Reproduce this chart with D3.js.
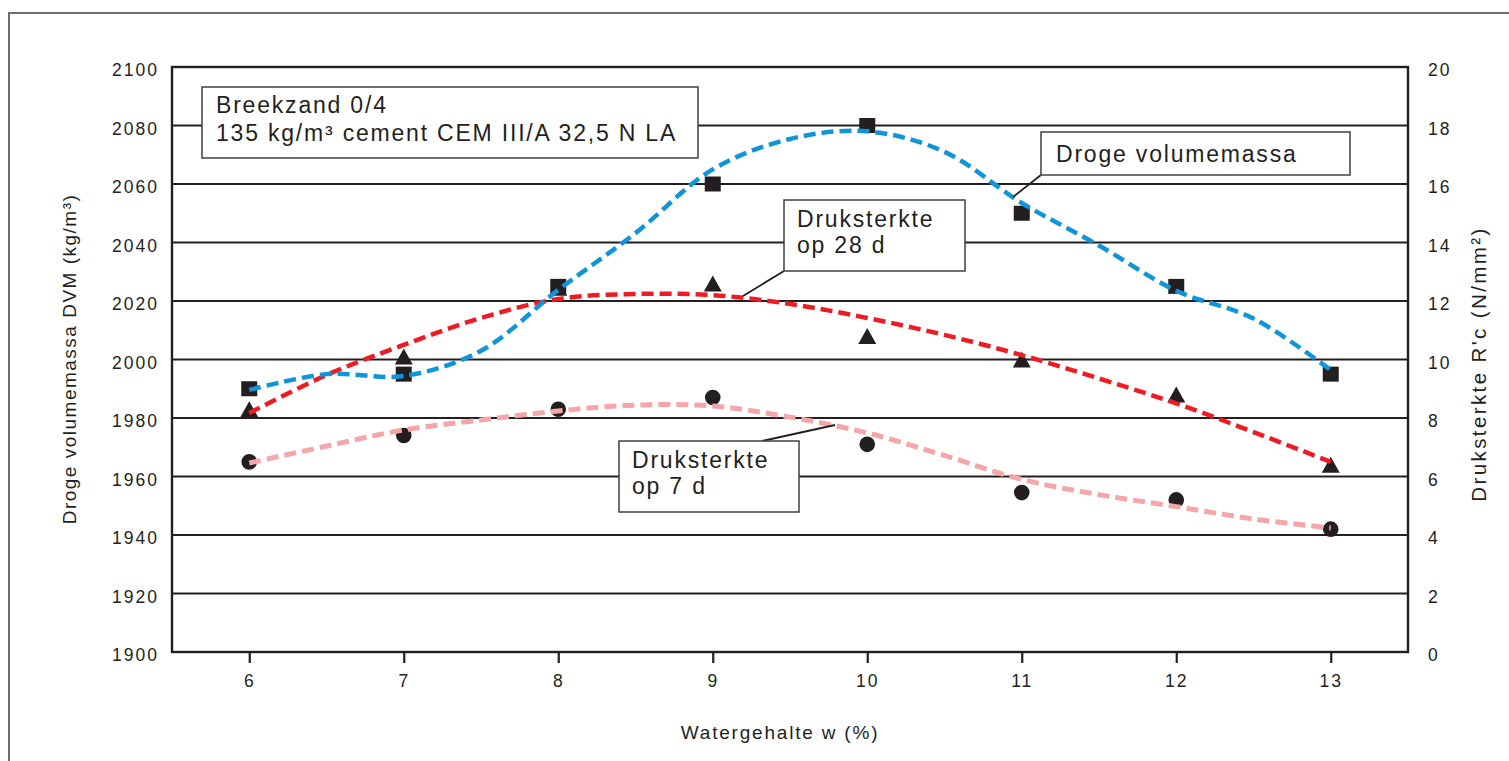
<!DOCTYPE html>
<html>
<head>
<meta charset="utf-8">
<script src="https://cdn.jsdelivr.net/npm/d3@7"></script>
<style>
  body { margin: 0; background: #fff; }
  text { font-family: "Liberation Sans", Arial, Helvetica, sans-serif; fill: #231f20; }
</style>
</head>
<body>
<div id="chart"></div>
<script>
// Measured points (x = watergehalte %)
const waterContent = [6, 7, 8, 9, 10, 11, 12, 13];
const dryDensity = [1990, 1995, 2025, 2060, 2080, 2050, 2025, 1995];   // kg/m3, left axis
const strength28d = [8.3, 10.1, 12.45, 12.6, 10.8, 10.0, 8.8, 6.4];   // N/mm2, right axis
const strength7d = [6.5, 7.4, 8.3, 8.7, 7.1, 5.45, 5.2, 4.2];          // N/mm2, right axis

// Trend lines
const fitX = [6, 6.5, 7, 7.5, 8, 8.5, 9, 9.5, 10, 10.5, 11, 11.5, 12, 12.5, 13];
const dryDensityFit = [1989.6, 1995, 1994.4, 2003, 2023.8, 2043.2, 2065, 2075.4, 2078, 2071, 2053.5, 2039, 2023.5, 2014, 1996.4];
const strength28dFit = [8.17, 9.47, 10.5, 11.42, 12.07, 12.24, 12.2, 11.9, 11.42, 10.84, 10.15, 9.35, 8.5, 7.52, 6.5];
const strength7dFit = [6.46, 7.04, 7.59, 7.93, 8.24, 8.44, 8.41, 8.03, 7.49, 6.72, 5.9, 5.38, 4.97, 4.55, 4.24];

// Tick labels
const xTicks = [6, 7, 8, 9, 10, 11, 12, 13];
const densityTicks = [1900, 1920, 1940, 1960, 1980, 2000, 2020, 2040, 2060, 2080, 2100];
const strengthTicks = [0, 2, 4, 6, 8, 10, 12, 14, 16, 18, 20];

(function () {
    const width = 1509, height = 761;
    const left = 172, right = 1408, top = 67, bottom = 652;
    const ink = "#231f20";

    const svg = d3.select("#chart")
        .append("svg")
        .attr("width", width)
        .attr("height", height);

    // outer frame (only top and left edges are in view)
    svg.append("rect")
        .attr("x", 9).attr("y", 13)
        .attr("width", width + 20).attr("height", height + 20)
        .attr("fill", "none")
        .attr("stroke", "#6d6e71")
        .attr("stroke-width", 2);

    const x = d3.scaleLinear().domain([5.5, 13.5]).range([left, right]);
    const yL = d3.scaleLinear().domain([1900, 2100]).range([bottom, top]);
    const yR = d3.scaleLinear().domain([0, 20]).range([bottom, top]);

    // gridlines
    svg.append("g")
        .selectAll("line")
        .data(densityTicks.slice(1, -1))
        .enter()
        .append("line")
        .attr("x1", left).attr("x2", right)
        .attr("y1", d => yL(d)).attr("y2", d => yL(d))
        .attr("stroke", ink)
        .attr("stroke-width", 2.2);

    // plot border
    svg.append("rect")
        .attr("x", left).attr("y", top)
        .attr("width", right - left).attr("height", bottom - top)
        .attr("fill", "none")
        .attr("stroke", ink)
        .attr("stroke-width", 2.4);

    // axes
    const xAxis = svg.append("g")
        .attr("transform", `translate(0,${bottom})`)
        .call(d3.axisBottom(x).tickValues(xTicks).tickSize(11).tickPadding(12));
    const yAxisL = svg.append("g")
        .attr("transform", `translate(${left},0)`)
        .call(d3.axisLeft(yL).tickValues(densityTicks).tickFormat(d3.format("d")).tickSize(0).tickPadding(13));
    const yAxisR = svg.append("g")
        .attr("transform", `translate(${right},0)`)
        .call(d3.axisRight(yR).tickValues(strengthTicks).tickFormat(d3.format("d")).tickSize(0).tickPadding(20));

    [xAxis, yAxisL, yAxisR].forEach(a => {
        a.select(".domain").remove();
        a.selectAll("line").attr("stroke", ink).attr("stroke-width", 2.2);
        a.selectAll("text")
            .attr("fill", ink)
            .style("font-size", "17.5px")
            .style("letter-spacing", "2px")
            .style("font-family", "'Liberation Sans', Arial, sans-serif");
    });
    yAxisL.selectAll("text").attr("dy", "0.5em");
    yAxisR.selectAll("text").attr("dy", "0.5em");

    // markers
    const squares = waterContent.map((w, i) => ({ w, v: dryDensity[i] }));
    const triangles = waterContent.map((w, i) => ({ w, v: strength28d[i] }));
    const circles = waterContent.map((w, i) => ({ w, v: strength7d[i] }));

    svg.append("g").selectAll("rect")
        .data(squares).enter().append("rect")
        .attr("x", d => x(d.w) - 8).attr("y", d => yL(d.v) - 7.5)
        .attr("width", 16).attr("height", 15)
        .attr("fill", ink);

    svg.append("g").selectAll("path")
        .data(triangles).enter().append("path")
        .attr("d", d => {
            const cx = x(d.w), cy = yR(d.v);
            return `M${cx},${cy - 8} L${cx + 9},${cy + 8} L${cx - 9},${cy + 8} Z`;
        })
        .attr("fill", ink);

    svg.append("g").selectAll("circle")
        .data(circles).enter().append("circle")
        .attr("cx", d => x(d.w)).attr("cy", d => yR(d.v))
        .attr("r", 7.8)
        .attr("fill", ink);

    // dashed trend lines
    const trend = (scale) => d3.line()
        .x(d => x(d[0]))
        .y(d => scale(d[1]))
        .curve(d3.curveCatmullRom.alpha(0.5));

    const trends = [
        { values: strength7dFit, scale: yR, color: "#f4a6a8", w: 5 },
        { values: strength28dFit, scale: yR, color: "#ed1c24", w: 4.5 },
        { values: dryDensityFit, scale: yL, color: "#0f95d8", w: 4.5 }
    ];
    trends.forEach(t => {
        svg.append("path")
            .datum(fitX.map((fx, i) => [fx, t.values[i]]))
            .attr("d", trend(t.scale))
            .attr("fill", "none")
            .attr("stroke", t.color)
            .attr("stroke-width", t.w)
            .attr("stroke-dasharray", "12,6");
    });

    // annotation boxes with leader lines
    const notes = [
        { x: 202, y: 87, w: 496, h: 71, tx: 216, lines: ["Breekzand 0/4", "135 kg/m³ cement CEM III/A 32,5 N LA"], base: [113, 141] },
        { x: 1041, y: 132, w: 309, h: 43, tx: 1056, lines: ["Droge volumemassa"], base: [162], leader: [1041, 175, 1013, 197] },
        { x: 784, y: 200, w: 181, h: 71, tx: 797, lines: ["Druksterkte", "op 28 d"], base: [227, 253], leader: [784, 271, 743, 296] },
        { x: 619, y: 441, w: 180, h: 71, tx: 632, lines: ["Druksterkte", "op 7 d"], base: [468, 494], leader: [762, 441, 835, 425] }
    ];
    notes.forEach(n => {
        if (n.leader) {
            svg.append("line")
                .attr("x1", n.leader[0]).attr("y1", n.leader[1])
                .attr("x2", n.leader[2]).attr("y2", n.leader[3])
                .attr("stroke", ink).attr("stroke-width", 1.8);
        }
        svg.append("rect")
            .attr("x", n.x).attr("y", n.y)
            .attr("width", n.w).attr("height", n.h)
            .attr("fill", "#fff")
            .attr("stroke", "#414042")
            .attr("stroke-width", 1.5);
        n.lines.forEach((l, i) => {
            svg.append("text")
                .attr("x", n.tx).attr("y", n.base[i])
                .style("font-size", "23px")
                .style("letter-spacing", "1.8px")
                .text(l);
        });
    });

    // axis titles
    const title = (sel, size, spacing) => sel
        .attr("text-anchor", "middle")
        .style("font-size", size + "px")
        .style("letter-spacing", spacing + "px");

    svg.append("text")
        .attr("transform", "translate(76,359) rotate(-90)")
        .call(title, 19, 1.5)
        .text("Droge volumemassa DVM (kg/m³)");

    svg.append("text")
        .attr("transform", "translate(1486,364) rotate(-90)")
        .call(title, 20.5, 2.4)
        .text("Druksterkte R'c (N/mm²)");

    svg.append("text")
        .attr("x", 780).attr("y", 739)
        .call(title, 19, 1.8)
        .text("Watergehalte w (%)");
})();
</script>
</body>
</html>
